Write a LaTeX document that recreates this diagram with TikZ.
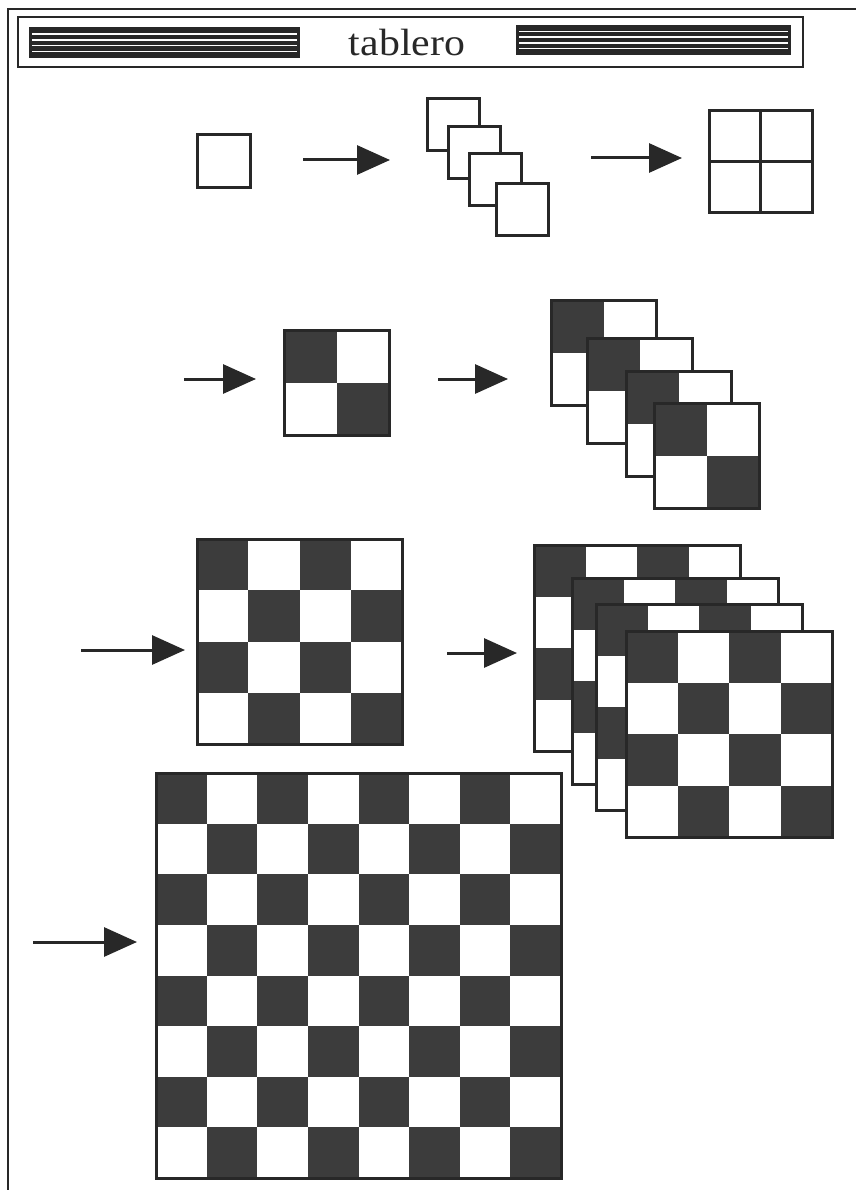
\documentclass[tikz,border=0pt]{standalone}
\usepackage{fontspec}
\setmainfont{Liberation Serif}
\usetikzlibrary{arrows.meta}
\definecolor{ink}{RGB}{40,40,40}
\definecolor{dk}{RGB}{60,60,60}
\tikzset{
  frameline/.style={draw=ink, line width=2pt},
  sqbox/.style={draw=ink, line width=3pt, fill=white},
  arr/.style={draw=ink, line width=3pt, -{Triangle[length=33pt,width=29pt]}},
  boardedge/.style={draw=ink, line width=3pt},
}
\newcommand\cboard[4]{% #1 cells, #2 x, #3 y, #4 size
  \fill[white] (#2,#3) rectangle ++(#4,#4);
  \pgfmathsetmacro\cellsz{#4/#1}
  \foreach \ii in {1,...,#1}{
    \foreach \jj in {1,...,#1}{
      \pgfmathtruncatemacro\cpar{mod(\ii+\jj,2)}
      \ifnum\cpar=0
        \fill[dk] ({#2+(\ii-1)*\cellsz},{#3+(\jj-1)*\cellsz}) rectangle ++(\cellsz,\cellsz);
      \fi
    }
  }
  \draw[boardedge] (#2,#3) rectangle ++(#4,#4);
}
\newcommand\stripebox[4]{% x1 y1 x2 y2
  \fill[ink] (#1,#2) rectangle (#3,#4);
  \foreach \ff in {0.22,0.41,0.60,0.79}{
    \draw[white, line width=1.6pt] ({#1+3},{#2+\ff*(#4-#2)}) -- ({#3-3},{#2+\ff*(#4-#2)});
  }
}
\begin{document}
\begin{tikzpicture}[x=1pt,y=-1pt]
\useasboundingbox (0,0) rectangle (856,1190);
\fill[white] (0,0) rectangle (856,1190);
% outer frame
\draw[frameline] (8,1190) -- (8,9) -- (856,9);
% title bar
\draw[draw=ink, line width=2.5pt] (18,17) rectangle (803,67);
\stripebox{29}{27}{300}{58}
\stripebox{516}{25}{791}{55}
\node[font=\fontsize{38}{38}\selectfont, text=ink, anchor=base, inner sep=0pt, xscale=1.1] (title) at (407,56) {tablero};

% row 1
\draw[sqbox] (197,135) rectangle ++(53,53);
\coordinate (a1s) at (303,160); \coordinate (a1e) at (390,160);
\draw[arr] (a1s) -- (a1e);
\draw[sqbox] (427,99) rectangle ++(52,52);
\draw[sqbox] (448,127) rectangle ++(52,52);
\draw[sqbox] (469,154) rectangle ++(52,52);
\draw[sqbox] (496,184) rectangle ++(52,52);
\coordinate (a2s) at (591,158); \coordinate (a2e) at (682,158);
\draw[arr] (a2s) -- (a2e);
\draw[sqbox] (709,111) rectangle (812,213);
\draw[draw=ink, line width=3pt] (760,111) -- (760,213) (709,162) -- (812,162);

% row 2
\coordinate (a3s) at (184,379); \coordinate (a3e) at (256,379);
\draw[arr] (a3s) -- (a3e);
\cboard{2}{284}{330}{105}
\coordinate (a4s) at (438,379); \coordinate (a4e) at (508,379);
\draw[arr] (a4s) -- (a4e);
\cboard{2}{551}{300}{105}
\cboard{2}{587}{338}{105}
\cboard{2}{626}{371}{105}
\cboard{2}{654}{403}{105}

% row 3
\coordinate (a5s) at (81,650); \coordinate (a5e) at (185,650);
\draw[arr] (a5s) -- (a5e);
\cboard{4}{197}{539}{205}
\coordinate (a6s) at (447,653); \coordinate (a6e) at (517,653);
\draw[arr] (a6s) -- (a6e);
\cboard{4}{534}{545}{206}
\cboard{4}{572}{578}{206}
\cboard{4}{596}{604}{206}
\cboard{4}{626}{631}{206}

% row 4
\coordinate (a7s) at (33,942); \coordinate (a7e) at (137,942);
\draw[arr] (a7s) -- (a7e);
\cboard{8}{156}{773}{405}
\end{tikzpicture}
\end{document}
